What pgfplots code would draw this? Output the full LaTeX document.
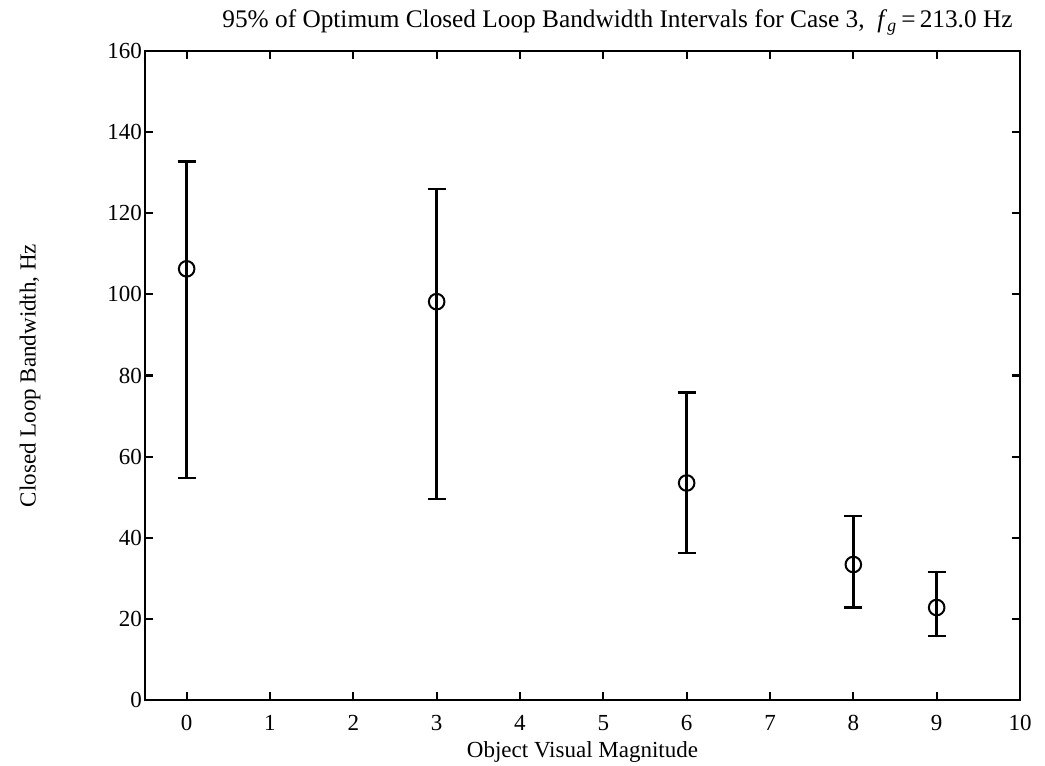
\documentclass[border=0pt]{standalone}
\usepackage{fontspec}
\setmainfont{Liberation Serif}[Scale=1.15]
\usepackage{pgfplots}
\pgfplotsset{compat=1.18}
\usepackage{pgfplotstable}

% magnitude, mean bandwidth, +err, -err
\pgfplotstableread{
x   y      ep    em
0   106.3  26.5  51.6
3   98.2   27.8  48.7
6   53.5   22.3  17.2
8   33.4   12.0  10.6
9   22.8   8.7   7.0
}\bwdata

\begin{document}
\begin{tikzpicture}
  \path[use as bounding box] (-72.5pt,-33pt) rectangle (450pt,350pt);
  \begin{axis}[
      scale only axis,
      width=437.5pt,
      height=324.5pt,
      xmin=-0.5, xmax=10,
      ymin=0, ymax=160,
      xtick={0,1,...,10},
      ytick={0,20,...,160},
      tick align=inside,
      major tick length=4pt,
      minor tick num=0,
      axis line style={line width=1.1pt},
      every tick/.style={black, line width=1.1pt},
      /pgf/number format/assume math mode=true,
      tick label style={font=\normalsize},
      xticklabel style={yshift=-3.5pt},
      yticklabel style={xshift=2.5pt},
      title={95\% of Optimum Closed Loop Bandwidth Intervals for Case 3,\ \ \textit{f}\textsubscript{\textit{g}}\,=\,213.0 Hz},
      title style={at={(axis description cs:0.54,1)}, anchor=south, yshift=-2pt, font=\fontsize{11}{13}\selectfont},
      xlabel={Object Visual Magnitude},
      xlabel style={yshift=2.5pt},
      ylabel={Closed Loop Bandwidth, Hz},
      ylabel style={at={(axis description cs:0,0.5)}, anchor=center, yshift=57.5pt},
    ]
    \addplot[
      only marks, black, mark=o, mark size=3.9pt, line width=1pt,
      error bars/.cd,
        y dir=both, y explicit,
        error bar style={line width=1.2pt},
        error mark options={rotate=90, mark size=4.5pt, line width=1.2pt},
    ] table[x=x, y=y, y error plus=ep, y error minus=em] {\bwdata};
  \end{axis}
\end{tikzpicture}
\end{document}
